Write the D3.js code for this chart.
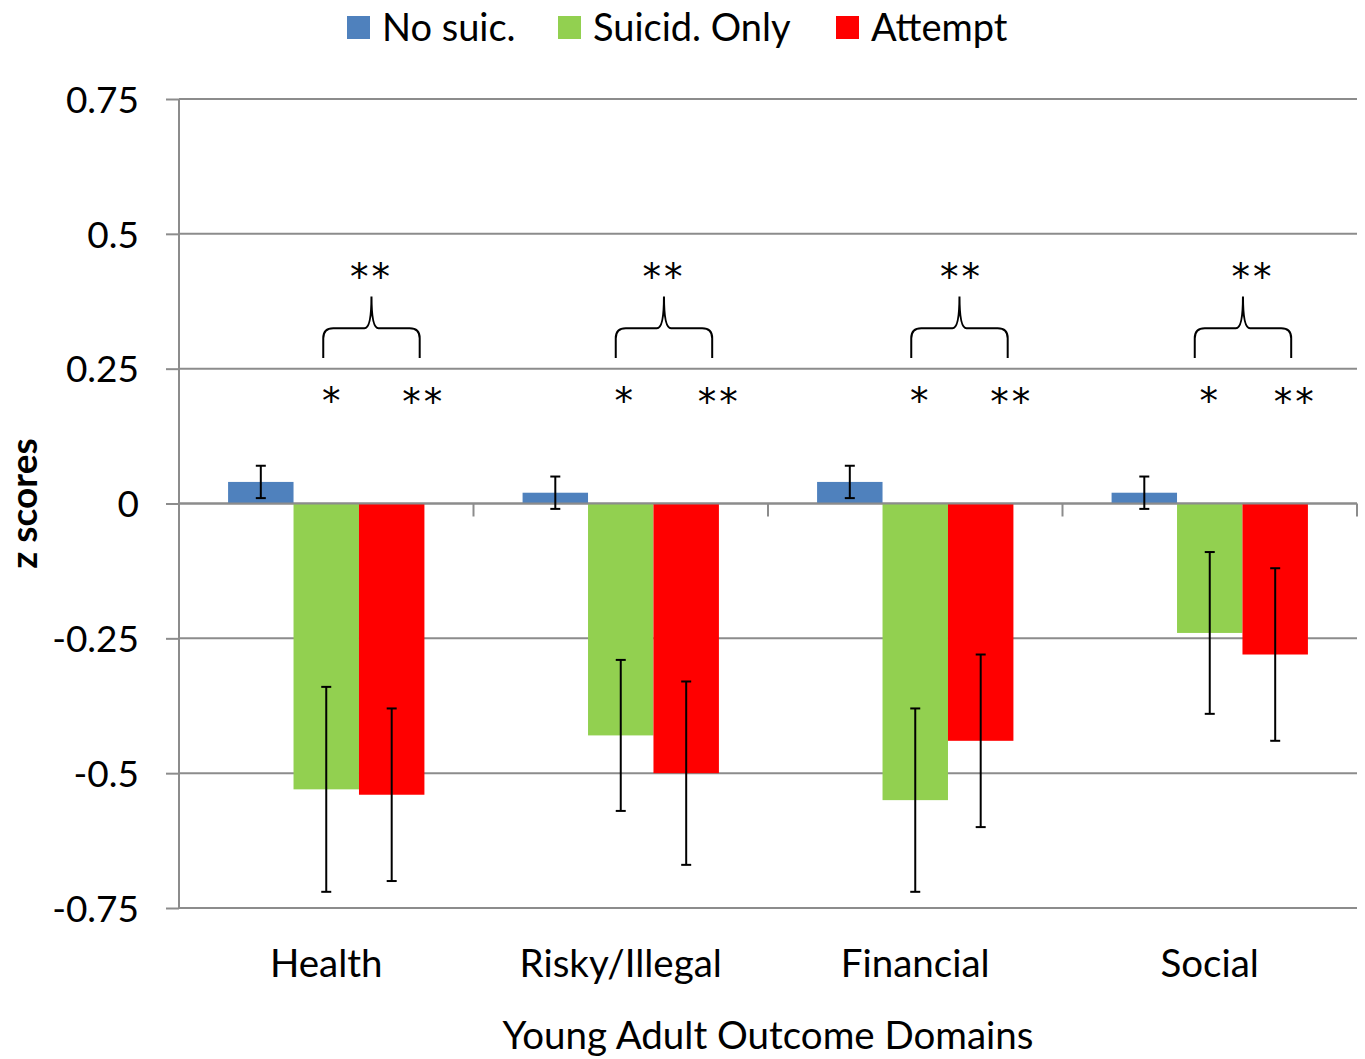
<!DOCTYPE html>
<html>
<head>
<meta charset="utf-8">
<script src="https://cdn.jsdelivr.net/npm/d3@7/dist/d3.min.js"></script>
<style>
  html, body { margin: 0; padding: 0; background: #fff; }
  svg text { font-family: Lato, "Open Sans", "Liberation Sans", sans-serif; fill: #000; }
  svg text.sig { font-family: "DejaVu Sans", sans-serif; }
</style>
</head>
<body>
<svg id="chart" width="1365" height="1059"></svg>
<script>
// Outcome domains and groups
const categories = ["Health", "Risky/Illegal", "Financial", "Social"];
const groups = ["No suic.", "Suicid. Only", "Attempt"];
const groupColors = ["#4F81BD", "#92D050", "#FF0000"];

// Mean z scores per group, one value per domain
const noSuic      = [0.04, 0.02, 0.04, 0.02];
const suicidOnly  = [-0.53, -0.43, -0.55, -0.24];
const attempt     = [-0.54, -0.50, -0.44, -0.28];

// Error bar bounds (low, high) per group, one per domain
const noSuicLow      = [0.01, -0.01, 0.01, -0.01];
const noSuicHigh     = [0.07, 0.05, 0.07, 0.05];
const suicidOnlyLow  = [-0.72, -0.57, -0.72, -0.39];
const suicidOnlyHigh = [-0.34, -0.29, -0.38, -0.09];
const attemptLow     = [-0.70, -0.67, -0.60, -0.44];
const attemptHigh    = [-0.38, -0.33, -0.28, -0.12];

// Significance markers per domain
const sigSuicidOnly = ["*", "*", "*", "*"];
const sigAttempt    = ["**", "**", "**", "**"];
const sigBetween    = ["**", "**", "**", "**"];

// Y axis ticks
const yTicks = [0.75, 0.5, 0.25, 0, -0.25, -0.5, -0.75];
const yTickLabels = ["0.75", "0.5", "0.25", "0", "-0.25", "-0.5", "-0.75"];

const seriesValues = [noSuic, suicidOnly, attempt];
const seriesLow = [noSuicLow, suicidOnlyLow, attemptLow];
const seriesHigh = [noSuicHigh, suicidOnlyHigh, attemptHigh];

const svg = d3.select("#chart");
const plotLeft = 179, plotRight = 1357, plotTop = 99, plotBottom = 908;
const gridColor = "#8c8c8c";

const y = d3.scaleLinear().domain([-0.75, 0.75]).range([plotBottom, plotTop]);
const x = d3.scaleBand().domain(categories).range([plotLeft, plotRight]).padding(0);
const xi = d3.scaleBand().domain(groups).range([0, x.bandwidth()])
  .paddingInner(0).paddingOuter(0.75);

// Horizontal gridlines
svg.append("g").selectAll("line").data(yTicks).join("line")
  .attr("x1", plotLeft).attr("x2", plotRight)
  .attr("y1", d => y(d)).attr("y2", d => y(d))
  .attr("stroke", gridColor).attr("stroke-width", 2);

// Left axis with outward ticks
const yAxis = d3.axisLeft(y).tickValues(yTicks)
  .tickFormat((d, i) => yTickLabels[i]).tickSize(13).tickPadding(27);
const gy = svg.append("g").attr("transform", `translate(${plotLeft},0)`).call(yAxis);
gy.select(".domain").attr("stroke", gridColor).attr("stroke-width", 2)
  .attr("d", `M0,${plotTop}V${plotBottom}`);
gy.selectAll(".tick line").attr("stroke", gridColor).attr("stroke-width", 2);
gy.selectAll(".tick text").attr("font-size", 37).attr("dy", "0.36em")
  .style("font-family", "Lato, 'Open Sans', sans-serif");

// Bars
const barData = [];
categories.forEach((c, ci) => {
  groups.forEach((g, gi) => {
    barData.push({ c, g, gi, v: seriesValues[gi][ci], lo: seriesLow[gi][ci], hi: seriesHigh[gi][ci] });
  });
});

svg.append("g").selectAll("rect").data(barData).join("rect")
  .attr("x", d => x(d.c) + xi(d.g))
  .attr("width", xi.bandwidth())
  .attr("y", d => y(Math.max(0, d.v)))
  .attr("height", d => Math.abs(y(d.v) - y(0)))
  .attr("fill", d => groupColors[d.gi]);

// Zero baseline with category separators below it
svg.append("line").attr("x1", plotLeft).attr("x2", plotRight)
  .attr("y1", y(0)).attr("y2", y(0))
  .attr("stroke", gridColor).attr("stroke-width", 2);
svg.append("g").selectAll("line").data(categories).join("line")
  .attr("x1", d => x(d) + x.bandwidth())
  .attr("x2", d => x(d) + x.bandwidth())
  .attr("y1", y(0)).attr("y2", y(0) + 13)
  .attr("stroke", gridColor).attr("stroke-width", 2);

// Error bars
const eb = svg.append("g").selectAll("g").data(barData).join("g")
  .attr("transform", d => `translate(${x(d.c) + xi(d.g) + xi.bandwidth() / 2},0)`);
eb.append("line").attr("x1", 0).attr("x2", 0)
  .attr("y1", d => y(d.hi)).attr("y2", d => y(d.lo))
  .attr("stroke", "#000").attr("stroke-width", 2);
eb.selectAll("line.cap").data(d => [d.hi, d.lo]).join("line").attr("class", "cap")
  .attr("x1", -5).attr("x2", 5)
  .attr("y1", d => y(d)).attr("y2", d => y(d))
  .attr("stroke", "#000").attr("stroke-width", 2);

// Significance braces and markers (small per-domain horizontal offsets, px)
const braceShift = [0, -2, -1, -12];
const topStarShift = [0, 0, 2, 10];
const greenStarShift = [0, -2, -1, -6];
const redStarShift = [0, 1, -1, -12];
categories.forEach((c, ci) => {
  const gx = x(c) + xi(groups[1]) + xi.bandwidth() / 2;
  const rx = x(c) + xi(groups[2]) + xi.bandwidth() / 2;
  const x0 = gx - 3 + braceShift[ci];
  const x1 = rx + 28 + braceShift[ci];
  const mx = (x0 + x1) / 2;
  const yb = y(0.27);         // brace feet
  const yh = y(0.325);        // brace shoulder
  const yp = y(0.384);        // brace peak
  const r = 10;
  const path = d3.path();
  path.moveTo(x0, yb);
  path.lineTo(x0, yh + r);
  path.quadraticCurveTo(x0, yh, x0 + r, yh);
  path.lineTo(mx - 7, yh);
  path.quadraticCurveTo(mx, yh, mx, yp);
  path.quadraticCurveTo(mx, yh, mx + 7, yh);
  path.lineTo(x1 - r, yh);
  path.quadraticCurveTo(x1, yh, x1, yh + r);
  path.lineTo(x1, yb);
  svg.append("path").attr("d", path.toString())
    .attr("fill", "none").attr("stroke", "#000").attr("stroke-width", 2);

  svg.append("text").attr("class", "sig")
    .attr("x", mx + topStarShift[ci]).attr("y", 290)
    .attr("text-anchor", "middle").attr("font-size", 37)
    .attr("letter-spacing", 3).text(sigBetween[ci]);
  svg.append("text").attr("class", "sig")
    .attr("x", gx + 5 + greenStarShift[ci]).attr("y", 414)
    .attr("text-anchor", "middle").attr("font-size", 37).text(sigSuicidOnly[ci]);
  svg.append("text").attr("class", "sig")
    .attr("x", rx + 32 + redStarShift[ci]).attr("y", 415)
    .attr("text-anchor", "middle").attr("font-size", 37)
    .attr("letter-spacing", 3).text(sigAttempt[ci]);
});

// Category labels
svg.append("g").selectAll("text").data(categories).join("text")
  .attr("x", d => x(d) + x.bandwidth() / 2).attr("y", 977)
  .attr("text-anchor", "middle").attr("font-size", 38.5).text(d => d);

// Axis titles
svg.append("text").attr("x", (plotLeft + plotRight) / 2).attr("y", 1049)
  .attr("text-anchor", "middle").attr("font-size", 38.5).text("Young Adult Outcome Domains");
svg.append("text").attr("transform", `translate(37,${y(0)}) rotate(-90)`)
  .attr("text-anchor", "middle").attr("font-size", 37).attr("font-weight", "bold")
  .text("z scores");

// Legend
const legendX = [347, 558, 836];
const lg = svg.append("g").selectAll("g").data(groups).join("g")
  .attr("transform", (d, i) => `translate(${legendX[i]},16)`);
lg.append("rect").attr("width", 23).attr("height", 23)
  .attr("fill", (d, i) => groupColors[i]);
lg.append("text").attr("x", 35).attr("y", 25).attr("font-size", 38).text(d => d);
</script>
</body>
</html>
